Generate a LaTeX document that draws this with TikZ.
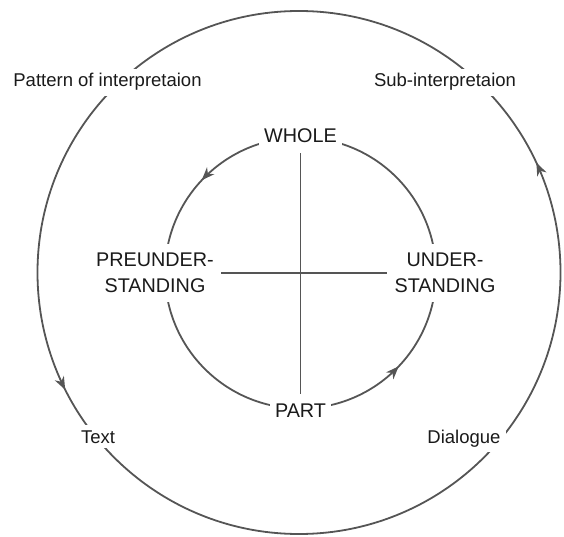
\documentclass[tikz,border=0pt]{standalone}
\usepackage{fontspec}
\setmainfont{Liberation Sans}
\usetikzlibrary{arrows.meta,decorations.markings}
\definecolor{linegray}{HTML}{555555}
\definecolor{textblack}{HTML}{1A1A1A}
\tikzset{
  ring/.style={draw=linegray, line width=1.8pt},
  cyc/.style 2 args={postaction={decorate}, decoration={markings,
      mark=at position #1 with {\arrow[linegray]{Stealth[length=13pt,width=10pt,inset=4pt]}},
      mark=at position #2 with {\arrow[linegray]{Stealth[length=13pt,width=10pt,inset=4pt]}}}},
  outerlbl/.style={fill=white, inner sep=5pt, text=textblack, font=\fontsize{18.5}{22}\selectfont},
  innerlbl/.style={fill=white, inner xsep=5pt, inner ysep=4pt, text=textblack, font=\fontsize{19.8}{26.5}\selectfont},
  sidelbl/.style={innerlbl, align=center, inner xsep=7pt, inner ysep=9pt},
  crossline/.style={draw=linegray, line width=1.8pt}
}
\begin{document}
\begin{tikzpicture}[x=1pt,y=1pt]
\useasboundingbox (0,0) rectangle (564,536);
\draw[ring, cyc={0.069}{0.574}] (299,263.5) circle[radius=261.5];
\draw[ring, cyc={0.380}{0.879}] (300.5,263) circle[radius=135.5];
\node[outerlbl, anchor=base] (pat) at (107.5,449) {Pattern of interpretaion};
\node[outerlbl, anchor=base] (sub) at (445,449) {Sub-interpretaion};
\node[outerlbl, anchor=base] (txt) at (98,93) {Text};
\node[outerlbl, anchor=base] (dia) at (464,93) {Dialogue};
\node[innerlbl, anchor=base] (whole) at (300.5,393) {WHOLE};
\node[innerlbl, anchor=base] (part) at (300.5,119) {PART};
\node[sidelbl] (pre) at (155,263) {PREUNDER-\\STANDING};
\node[sidelbl] (und) at (445,263) {UNDER-\\STANDING};
\draw[crossline, shorten <=6pt, shorten >=5pt] (whole) -- (part);
\draw[crossline] (pre) -- (und);
\end{tikzpicture}
\end{document}
